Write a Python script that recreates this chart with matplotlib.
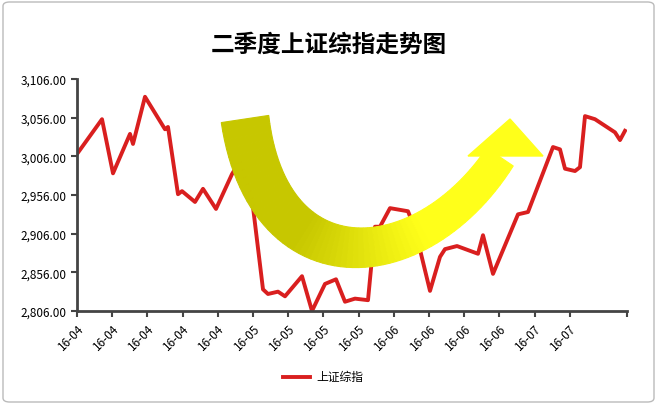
import numpy as np
import matplotlib
matplotlib.use("Agg")
import matplotlib.pyplot as plt
from matplotlib.patches import Polygon, FancyBboxPatch

plt.rcParams['font.family'] = ['Noto Sans CJK SC', 'DejaVu Sans']

# x position of each point (pixel) and index level
xpix = [77, 102, 113, 130, 133, 145, 165, 168, 178, 182, 195, 203, 216, 232, 240, 252,
        263, 268, 278, 285, 302, 312, 325, 336, 345, 355, 368, 375, 380, 390, 408, 415,
        430, 440, 445, 457, 478, 483, 493, 518, 528, 553, 560, 565, 575, 580, 585, 595,
        615, 620, 625]
levels = [3009, 3054, 2984, 3035, 3022, 3083, 3041, 3044, 2957, 2961, 2947, 2964, 2938, 2983,
          3000, 2951, 2834, 2828, 2831, 2825, 2851, 2806, 2841, 2847, 2818, 2822, 2820, 2915,
          2915, 2939, 2935, 2912, 2832, 2876, 2886, 2890, 2880, 2904, 2854, 2931, 2934, 3018,
          3015, 2990, 2987, 2992, 3058, 3054, 3037, 3027, 3039]
tick_labels = ['16-04'] * 5 + ['16-05'] * 4 + ['16-06'] * 4 + ['16-07'] * 2
y_ticks = [2806, 2856, 2906, 2956, 3006, 3056, 3106]

day_pos = [(p - 77) / 8.8 for p in xpix]

W, H = 657, 406
fig = plt.figure(figsize=(W / 100, H / 100), dpi=100)
fig.patches.append(FancyBboxPatch((3 / W, 3 / H), 1 - 6 / W, 1 - 6 / H,
                                  boxstyle="round,pad=0,rounding_size=0.01",
                                  transform=fig.transFigure, fc='white', ec='#bbbbbb',
                                  lw=1, zorder=-5))
ax = fig.add_axes([77 / W, 1 - 312 / H, 550 / W, 232 / H])
ax.set_facecolor('none')

xmax = 62.5
ax.plot(day_pos, levels, color='#d91f1f', lw=2.8, solid_joinstyle='round', zorder=2)
ax.set_xlim(0, xmax)
ax.set_ylim(2806, 3106)
ax.set_yticks(y_ticks)
ax.set_yticklabels([f"{v:,.2f}" for v in y_ticks], fontsize=8.5)
xt = list(np.arange(len(tick_labels)) * 4)
ax.set_xticks(xt + [xmax])
ax.set_xticklabels(tick_labels + [''], rotation=45, ha='right', rotation_mode='anchor',
                   fontsize=8.5)
for s in ['top', 'right']:
    ax.spines[s].set_visible(False)
for s in ['left', 'bottom']:
    ax.spines[s].set_color('#444444')
    ax.spines[s].set_linewidth(2)
ax.tick_params(length=4, width=1.5, color='#444444')

# curved yellow arrow (decoration, figure pixel coords)
def fp(x, y):
    return (x / W, 1 - y / H)

t = np.linspace(0, 1, 60)
P = np.array([[245, 120], [268, 290], [420, 280], [500, 158]])
c = ((1 - t) ** 3)[:, None] * P[0] + (3 * (1 - t) ** 2 * t)[:, None] * P[1] + \
    (3 * (1 - t) * t ** 2)[:, None] * P[2] + (t ** 3)[:, None] * P[3]
d = np.gradient(c, axis=0)
n = np.stack([-d[:, 1], d[:, 0]], axis=1)
n /= np.linalg.norm(n, axis=1)[:, None]
w = np.linspace(24, 16, 60)
outer = c + n * w[:, None]
inner = c - n * w[:, None]
c0 = np.array([0.78, 0.78, 0.0])
c1 = np.array([1.0, 1.0, 0.1])
for i in range(59):
    f = min(1, max(0, (c[i, 0] - 300) / 120))
    col = c0 * (1 - f) + c1 * f
    quad = [outer[i], outer[i + 1], inner[i + 1], inner[i]]
    fig.patches.append(Polygon([fp(*q) for q in quad], closed=True, transform=fig.transFigure,
                               fc=col, ec=col, lw=0.8, zorder=3))
head = [fp(468, 157), fp(543, 157), fp(510, 120)]
fig.patches.append(Polygon(head, closed=True, transform=fig.transFigure, fc='#ffff1a',
                           ec='#ffff1a', zorder=3))

fig.text(0.5, 1 - 45 / H, '二季度上证综指走势图', ha='center', va='center',
         fontsize=17, fontweight='bold')
fig.lines.append(plt.Line2D([283 / W, 310 / W], [1 - 378 / H] * 2, color='#d91f1f', lw=2.8,
                            transform=fig.transFigure))
fig.text(316 / W, 1 - 378 / H, '上证综指', va='center', fontsize=8.5)

fig.savefig('out.png', dpi=100)
